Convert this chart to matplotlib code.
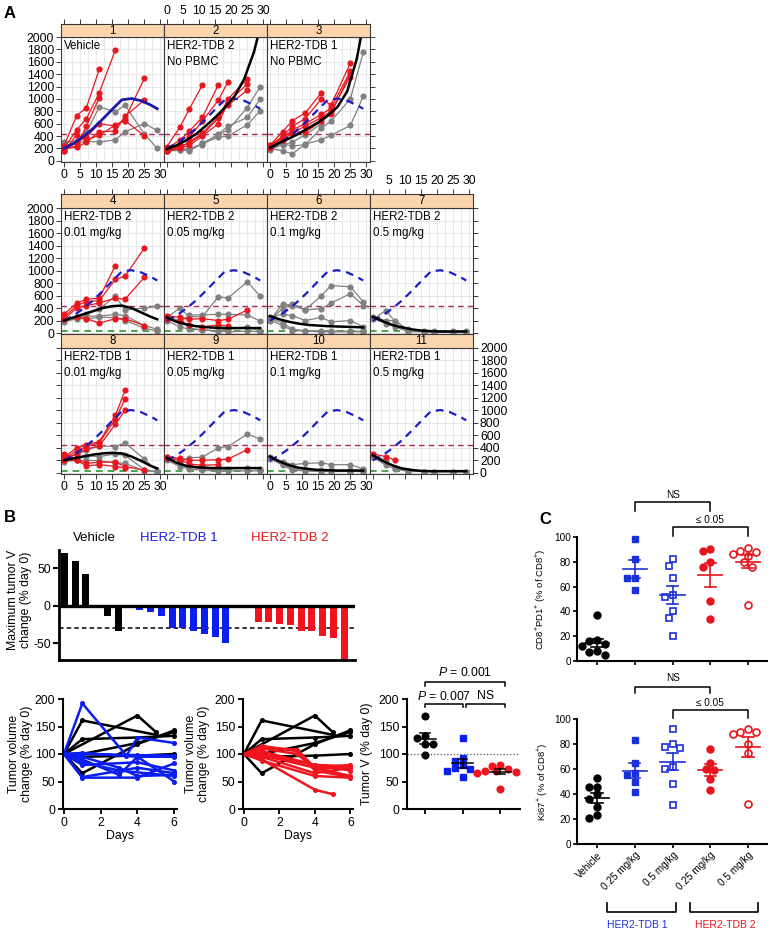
import numpy as np
import matplotlib
matplotlib.use("Agg")
import matplotlib.pyplot as plt

plt.rcParams['font.family'] = ['Liberation Sans', 'DejaVu Sans']
plt.rcParams['mathtext.fontset'] = 'custom'
plt.rcParams['mathtext.rm'] = 'Liberation Sans'
plt.rcParams['mathtext.it'] = 'Liberation Sans:italic'
plt.rcParams['mathtext.bf'] = 'Liberation Sans:bold'
plt.rcParams['axes.unicode_minus'] = False

# ---------------- Panel A data ----------------
DAYS = [0, 4, 7, 11, 16, 19, 25, 29]
FIT_DAYS = [0, 3, 6, 9, 12, 15, 18, 21, 24, 27, 29]
VEHICLE_FIT = [200, 280, 390, 520, 670, 830, 985, 1005, 970, 900, 840]

P1_RED = [[240, 730, 860, 1480], [200, 500, 680, 1100, 1790], [180, 240, 560, 1020],
          [160, 300, 380, 600, 560, 680, 1330], [200, 220, 300, 470, 480, 720, 980],
          [150, 420, 340, 410, 580, 650, 400]]
P1_GRAY = [[300, 320, 460, 870, 790, 900, 430, 200], [250, 280, 320, 300, 340, 470, 600, 490]]
P2_RED = [[230, 540, 840, 1220], [200, 330, 480, 700, 1230], [180, 260, 380, 640, 980, 1280],
          [160, 230, 290, 420, 690, 1000, 1320], [150, 200, 250, 400, 600, 950, 1240],
          [200, 220, 300, 450, 700, 900, 1140]]
P2_GRAY = [[170, 190, 160, 280, 420, 500, 860, 1200], [190, 180, 200, 260, 430, 560, 700, 1000],
           [160, 170, 180, 280, 380, 400, 580, 810]]
P3_RED = [[250, 470, 650, 770, 1100], [230, 400, 560, 680, 1000, 900, 1580],
          [220, 360, 500, 600, 750, 850, 1450], [200, 330, 450, 560, 700, 800, 1360],
          [260, 380, 470, 460, 640, 760, 1420]]
P3_GRAY = [[200, 160, 110, 270, 340, 410, 570, 1040], [220, 270, 240, 260, 530, 640, 1000, 1750],
           [180, 260, 300, 420, 600, 820]]
P4_RED = [[300, 480, 540, 560, 1080], [250, 440, 500, 520, 860, 910, 1360],
          [220, 400, 440, 480, 560, 540, 890], [220, 260, 230, 160, 230, 230, 120]]
P4_GRAY = [[200, 260, 300, 380, 590, 370, 400, 430], [220, 240, 270, 270, 300, 280, 120, 60],
           [180, 230, 230, 250, 250, 200, 80, 30]]
P5_RED = [[280, 250, 220, 230, 200, 220, 370], [220, 190, 130, 100, 130, 110]]
P5_GRAY = [[250, 400, 260, 260, 580, 560, 820, 590], [230, 170, 290, 290, 300, 300, 290, 190],
           [200, 100, 60, 50, 40, 60, 100, 30], [260, 200, 80, 50, 30, 20, 30, 20]]
P6_RED = []
P6_GRAY = [[200, 470, 440, 370, 600, 760, 740, 500], [220, 390, 470, 370, 390, 480, 630, 440],
           [260, 300, 280, 200, 250, 180, 200, 100], [240, 160, 60, 40, 30, 30, 30, 30],
           [210, 120, 40, 30, 20, 20, 20, 20]]
P7_RED = []
P7_GRAY = [[220, 360, 180, 60, 30, 30, 30, 30], [260, 200, 200, 40, 20, 20, 20, 20],
           [240, 150, 100, 20, 20, 20, 20, 20]]
P8_RED = [[250, 400, 450, 500, 920, 1320], [230, 350, 420, 480, 860, 1180],
          [210, 300, 380, 430, 780, 1000], [300, 210, 150, 170, 170, 100, 40],
          [200, 200, 110, 130, 100, 80]]
P8_GRAY = [[250, 300, 360, 430, 420, 480, 220, 30], [220, 250, 270, 260, 300, 280, 50, 20],
           [180, 200, 200, 190, 160, 150, 30, 20]]
P9_RED = [[260, 230, 200, 200, 210, 220, 370], [230, 210, 140, 120, 130]]
P9_GRAY = [[250, 190, 240, 250, 400, 420, 620, 540], [220, 150, 90, 60, 50, 60, 80, 60],
           [200, 100, 60, 40, 30, 30, 30, 30]]
P10_RED = []
P10_GRAY = [[240, 180, 130, 150, 160, 130, 130, 60], [260, 160, 80, 60, 40, 40, 40, 40],
            [220, 140, 60, 30, 30, 30, 30, 30], [230, 120, 40, 30, 20, 20, 20, 20]]
P11_RED = [[300, 260, 200]]
P11_GRAY = [[280, 200, 80, 30, 20, 20, 20, 20], [250, 120, 60, 20, 20, 20, 20, 20]]

P1_FIT = None
P2_FIT = [190, 250, 330, 430, 560, 700, 860, 1040, 1320, 1750, 2150]
P3_FIT = [210, 290, 360, 440, 530, 620, 730, 870, 1120, 1650, 2200]
P4_FIT = [200, 250, 300, 350, 400, 430, 440, 400, 330, 260, 220]
P5_FIT = [250, 180, 140, 110, 95, 85, 80, 80, 80, 80, 80]
P6_FIT = [270, 220, 180, 150, 130, 120, 110, 105, 100, 95, 90]
P7_FIT = [260, 190, 130, 90, 60, 40, 30, 25, 25, 25, 25]
P8_FIT = [200, 230, 260, 290, 310, 320, 310, 260, 190, 110, 70]
P9_FIT = [240, 160, 110, 90, 80, 75, 75, 75, 75, 75, 75]
P10_FIT = [260, 180, 120, 80, 60, 45, 40, 35, 35, 35, 35]
P11_FIT = [280, 190, 120, 70, 45, 30, 25, 25, 25, 25, 25]

PANEL_TEXT = ["Vehicle", "HER2-TDB 2\nNo PBMC", "HER2-TDB 1\nNo PBMC",
              "HER2-TDB 2\n0.01 mg/kg", "HER2-TDB 2\n0.05 mg/kg", "HER2-TDB 2\n0.1 mg/kg",
              "HER2-TDB 2\n0.5 mg/kg", "HER2-TDB 1\n0.01 mg/kg", "HER2-TDB 1\n0.05 mg/kg",
              "HER2-TDB 1\n0.1 mg/kg", "HER2-TDB 1\n0.5 mg/kg"]
X_TICKS_A = [0, 5, 10, 15, 20, 25, 30]
Y_TICKS_A = [0, 200, 400, 600, 800, 1000, 1200, 1400, 1600, 1800, 2000]
PROGRESSION_LEVEL = 440
REGRESSION_LEVEL = 30

# ---------------- Panel B data ----------------
WF_VEHICLE = [70, 60, 42, -3, -13, -33]
WF_TDB1 = [-6, -8, -13, -30, -30, -34, -38, -42, -49]
WF_TDB2 = [-22, -22, -24, -26, -34, -34, -40, -43, -72]
WF_CUTOFF = -30

VEH_LINE_DAYS = [[0, 1, 5], [0, 4, 5], [0, 1, 4, 6], [0, 1, 4, 6], [0, 1, 4, 6], [0, 1, 4, 6]]
VEH_LINE_VALS = [[100, 161, 135], [100, 170, 140], [100, 127, 130, 133], [100, 65, 118, 143],
                 [100, 95, 97, 100], [100, 100, 120, 140]]
TDB1_LINE_DAYS = [[0, 1, 3.4, 4, 6], [0, 1, 4, 6], [0, 1, 4, 6], [0, 1, 3, 4, 6], [0, 1, 4, 6],
                  [0, 1, 4, 6], [0, 1, 3, 4, 6], [0, 1, 4, 6], [0, 1, 3, 6]]
TDB1_LINE_VALS = [[100, 192, 97, 130, 120], [100, 57, 57, 83], [100, 100, 98, 97],
                  [100, 90, 62, 95, 50], [100, 80, 85, 70], [100, 58, 75, 65],
                  [100, 95, 75, 60, 62], [100, 102, 95, 95], [100, 85, 70, 60]]
TDB2_LINE_DAYS = [[0, 1, 3, 4, 6], [0, 1, 4, 5], [0, 1, 3, 4, 6], [0, 1, 4, 6], [0, 1, 4, 6],
                  [0, 1, 4, 6], [0, 1, 4, 6], [0, 1, 4, 6], [0, 1, 3, 4, 6]]
TDB2_LINE_VALS = [[100, 112, 108, 75, 80], [100, 90, 35, 27], [100, 115, 105, 70, 58],
                  [100, 105, 80, 78], [100, 88, 60, 57], [100, 98, 75, 60], [100, 95, 65, 75],
                  [100, 100, 80, 70], [100, 110, 100, 72, 77]]

DOT_VEHICLE = [170, 132, 130, 118, 118, 98]
DOT_TDB1 = [130, 93, 87, 80, 74, 72, 70, 58]
DOT_TDB2 = [80, 79, 73, 70, 69, 68, 66, 37]

# ---------------- Panel C data ----------------
C_LABELS = ["Vehicle", "0.25 mg/kg", "0.5 mg/kg", "0.25 mg/kg", "0.5 mg/kg"]
PD1_VEH = [37, 17, 16, 14, 12, 8, 7, 5]
PD1_TDB1_025 = [98, 82, 67, 67, 57]
PD1_TDB1_05 = [82, 77, 67, 53, 52, 40, 35, 20]
PD1_TDB2_025 = [90, 89, 80, 76, 48, 34]
PD1_TDB2_05 = [91, 89, 88, 86, 85, 80, 76, 45]
KI_VEH = [53, 46, 46, 40, 36, 30, 23, 21]
KI_TDB1_025 = [83, 65, 57, 55, 50, 42]
KI_TDB1_05 = [92, 80, 78, 77, 62, 60, 48, 31]
KI_TDB2_025 = [76, 65, 60, 59, 52, 43]
KI_TDB2_05 = [92, 90, 90, 88, 80, 73, 32]

# ---------------- figure ----------------
W, H = 770, 936
fig = plt.figure(figsize=(W / 100, H / 100), dpi=100)
fig.patch.set_facecolor('white')


def add_ax(x0, y0, x1, y1):
    return fig.add_axes([x0 / W, 1 - y1 / H, (x1 - x0) / W, (y1 - y0) / H])


STRIP = '#FBD5AE'
GRID = '#E4E4E4'
EDGE = '#3A3A3A'
RED_A = '#E8161E'
GRAY_A = '#808080'
BLUE_A = '#1C1CC8'
MAROON = '#A8285A'
GREEN = '#2E962E'

COLS = [61, 164, 267, 370, 473]
ROWS = [(24, 37, 162, -20), (194, 208, 334, -15), (334, 348, 474, -20)]
POS = [(0, 0), (0, 1), (0, 2), (1, 0), (1, 1), (1, 2), (1, 3), (2, 0), (2, 1), (2, 2), (2, 3)]
REDS = [P1_RED, P2_RED, P3_RED, P4_RED, P5_RED, P6_RED, P7_RED, P8_RED, P9_RED, P10_RED, P11_RED]
GRAYS = [P1_GRAY, P2_GRAY, P3_GRAY, P4_GRAY, P5_GRAY, P6_GRAY, P7_GRAY, P8_GRAY, P9_GRAY,
         P10_GRAY, P11_GRAY]
FITS = [P1_FIT, P2_FIT, P3_FIT, P4_FIT, P5_FIT, P6_FIT, P7_FIT, P8_FIT, P9_FIT, P10_FIT, P11_FIT]
LAST_COL = [2, 3, 3]

for k, (r, c) in enumerate(POS):
    stop, ptop, pbot, ylo = ROWS[r]
    ax = add_ax(COLS[c], ptop, COLS[c + 1], pbot)
    ax.set_xlim(-0.9, 31.1)
    ax.set_ylim(ylo, 2000)
    for gx in np.arange(0, 30.1, 2.5):
        ax.axvline(gx, color=GRID, lw=0.6, zorder=0)
    for gy in Y_TICKS_A:
        ax.axhline(gy, color=GRID, lw=0.6, zorder=0)
    ax.axhline(PROGRESSION_LEVEL, color=MAROON, lw=1.0, dashes=(4, 3), zorder=1)
    if r > 0:
        ax.axhline(REGRESSION_LEVEL, color=GREEN, lw=1.2, dashes=(4, 3), zorder=1)
    for line in GRAYS[k]:
        ax.plot(DAYS[:len(line)], line, color=GRAY_A, lw=0.9, marker='o', ms=3.4, zorder=2)
    for line in REDS[k]:
        ax.plot(DAYS[:len(line)], line, color=RED_A, lw=0.9, marker='o', ms=3.4, zorder=3)
    if k == 0:
        ax.plot(FIT_DAYS, VEHICLE_FIT, color='#1A1AA8', lw=2.0, zorder=5)
    else:
        ax.plot(FIT_DAYS, VEHICLE_FIT, color=BLUE_A, lw=1.6, dashes=(3.5, 2.6), zorder=5)
        ax.plot(FIT_DAYS, FITS[k], color='black', lw=1.8, zorder=6)
    ax.text(0.03, 0.975, PANEL_TEXT[k], transform=ax.transAxes, ha='left', va='top',
            fontsize=8.3, linespacing=1.45, zorder=7)
    for s in ax.spines.values():
        s.set_color(EDGE)
        s.set_linewidth(0.8)
    ax.set_xticks(X_TICKS_A)
    ax.set_yticks(Y_TICKS_A)
    ax.tick_params(direction='out', length=3.5, width=0.7, color=EDGE, labelsize=8.8, pad=1.5)
    show_bottom = r in (0, 2)
    ax.tick_params(axis='x', top=False, bottom=show_bottom,
                   labelbottom=show_bottom and c in (0, 2), labeltop=False)
    ax.tick_params(axis='y', left=(c == 0), labelleft=(c == 0 and r < 2),
                   right=(c == LAST_COL[r]), labelright=(c == LAST_COL[r] and r == 2))
    # strip
    sa = add_ax(COLS[c], stop, COLS[c + 1], ptop)
    sa.set_facecolor(STRIP)
    sa.set_xlim(-0.9, 31.1)
    sa.set_ylim(0, 1)
    sa.set_yticks([])
    for s in sa.spines.values():
        s.set_color(EDGE)
        s.set_linewidth(0.8)
    sa.text(0.5, 0.5, str(k + 1), transform=sa.transAxes, ha='center', va='center', fontsize=8.3)
    if r < 2:
        sa.set_xticks(X_TICKS_A)
        sa.xaxis.tick_top()
        sa.tick_params(axis='x', direction='out', length=3.5, width=0.7, color=EDGE,
                       labelsize=8.8, pad=1.5, bottom=False, labelbottom=False)
        if (r == 0 and c == 1):
            sa.set_xticklabels([str(t) for t in X_TICKS_A])
        elif (r == 1 and c == 3):
            sa.set_xticklabels([''] + [str(t) for t in X_TICKS_A[1:]])
        else:
            sa.tick_params(axis='x', labeltop=False)
    else:
        sa.set_xticks([])

# ---------------- Panel B: waterfall ----------------
BLUE_B = '#0A1EF0'
RED_B = '#F0141E'
axw = add_ax(59, 550, 355, 660)
pos_veh = np.arange(len(WF_VEHICLE))
pos_t1 = np.arange(len(WF_TDB1)) + len(WF_VEHICLE) + 1
pos_t2 = np.arange(len(WF_TDB2)) + pos_t1[-1] + 3
axw.bar(pos_veh, WF_VEHICLE, width=0.65, color='black', zorder=2)
axw.bar(pos_t1, WF_TDB1, width=0.65, color=BLUE_B, zorder=2)
axw.bar(pos_t2, WF_TDB2, width=0.65, color=RED_B, zorder=2)
axw.set_xlim(-0.5, pos_t2[-1] + 1)
axw.set_ylim(-72, 74)
axw.axhline(0, color='black', lw=2.4, zorder=3)
axw.axhline(WF_CUTOFF, color='black', lw=1.1, dashes=(3, 2), zorder=1)
for s in ('top', 'right'):
    axw.spines[s].set_visible(False)
axw.spines['left'].set_linewidth(2)
axw.spines['bottom'].set_linewidth(2)
axw.set_xticks([])
axw.set_yticks([50, 0, -50])
axw.tick_params(axis='y', length=4, width=1.5, labelsize=8.8, pad=2)
axw.set_ylabel("Maximum tumor V\nchange (% day 0)", fontsize=8.8, linespacing=1.1)
axw.yaxis.set_label_coords(-0.09, 0.55)


# ---------------- Panel B: line plots ----------------
def line_axes(x0, x1, groups):
    a = add_ax(x0, 699, x1, 809)
    for days_list, vals_list, col in groups:
        for d, v in zip(days_list, vals_list):
            a.plot(d, v, color=col, lw=1.8, marker='o', ms=2.6, clip_on=False)
    a.set_xlim(-0.05, 6.15)
    a.set_ylim(0, 200)
    a.set_xticks([0, 2, 4, 6])
    a.set_yticks([0, 50, 100, 150, 200])
    for s in ('top', 'right'):
        a.spines[s].set_visible(False)
    for s in ('left', 'bottom'):
        a.spines[s].set_linewidth(1.5)
    a.tick_params(length=3.5, width=1.3, labelsize=8.8, pad=2)
    a.set_xlabel("Days", fontsize=8.8, labelpad=1)
    a.set_ylabel("Tumor volume\nchange (% day 0)", fontsize=8.8, linespacing=1.1)
    return a


la1 = line_axes(63, 177, [(VEH_LINE_DAYS, VEH_LINE_VALS, 'black'),
                          (TDB1_LINE_DAYS, TDB1_LINE_VALS, BLUE_B)])
la1.yaxis.set_label_coords(-0.265, 0.5)
la2 = line_axes(243, 353, [(VEH_LINE_DAYS, VEH_LINE_VALS, 'black'),
                           (TDB2_LINE_DAYS, TDB2_LINE_VALS, RED_B)])
la2.yaxis.set_label_coords(-0.30, 0.5)


# ---------------- helpers for dot plots ----------------
def swarm_offsets(vals, y_per_unit, x_per_unit, diam):
    vals = np.asarray(vals, float)
    order = np.argsort(-vals)
    placed = []
    offs = np.zeros(len(vals))
    step = diam * 0.55
    cands = [0.0]
    for j in range(1, 14):
        cands += [-j * step, j * step]
    for i in order:
        y = vals[i] * y_per_unit
        for cnd in cands:
            if all((cnd - px) ** 2 + (y - py) ** 2 >= (diam * 0.95) ** 2 for px, py in placed):
                offs[i] = cnd / x_per_unit
                placed.append((cnd, y))
                break
    return offs


def mean_sem(ax, x, vals, color, half=0.3, cap=0.14, lw=1.2):
    m = np.mean(vals)
    s = np.std(vals, ddof=1) / np.sqrt(len(vals))
    ax.plot([x - half, x + half], [m, m], color=color, lw=lw, zorder=5)
    ax.plot([x, x], [m - s, m + s], color=color, lw=lw, zorder=5)
    for yy in (m - s, m + s):
        ax.plot([x - cap, x + cap], [yy, yy], color=color, lw=lw, zorder=5)


def bracket(ax, x0, x1, y, ylo, text, ty, fs):
    ax.plot([x0, x0, x1, x1], [ylo, y, y, ylo], color='black', lw=1.1, clip_on=False)
    ax.text((x0 + x1) / 2, ty, text, ha='center', va='center', fontsize=fs, clip_on=False)


# ---------------- Panel B: dot plot ----------------
axd = add_ax(407, 699, 520, 809)
axd.set_xlim(-0.48, 2.53)
axd.set_ylim(0, 200)
axd.axhline(100, color='#555555', lw=0.9, ls=':', zorder=1)
for i, (vals, col, mk) in enumerate([(DOT_VEHICLE, 'black', 'o'), (DOT_TDB1, BLUE_B, 's'),
                                     (DOT_TDB2, RED_B, 'o')]):
    offs = swarm_offsets(vals, 0.55, 37.5, 7.0)
    axd.plot(i + offs, vals, ls='none', marker=mk, ms=4.8 if mk == 'o' else 4.4,
             color=col, zorder=3)
    mean_sem(axd, i, vals, 'black', half=0.28, cap=0.13, lw=1.1)
for s in ('top', 'right'):
    axd.spines[s].set_visible(False)
for s in ('left', 'bottom'):
    axd.spines[s].set_linewidth(1.5)
axd.set_xticks([0, 1, 2])
axd.set_xticklabels([])
axd.set_yticks([0, 50, 100, 150, 200])
axd.tick_params(length=3.5, width=1.3, labelsize=8.8, pad=2)
axd.set_ylabel("Tumor V (% day 0)", fontsize=8.8)
axd.yaxis.set_label_coords(-0.30, 0.5)
bracket(axd, 0.0, 1.0, 191, 185, r"$P$ = 0.007", 205, 8.8)
bracket(axd, 1.1, 2.13, 191, 185, "NS", 205, 8.8)
bracket(axd, 0.0, 2.13, 231, 224, r"$P$ = 0.001", 248, 8.8)

# ---------------- Panel C ----------------
BLUE_C = '#1C30D8'
RED_C = '#E8141C'
C_STYLE = [('black', 'o', True), (BLUE_C, 's', True), (BLUE_C, 's', False),
           (RED_C, 'o', True), (RED_C, 'o', False)]


def c_axes(y0, y1, groups, ylabel, lab_x, b1, b2, show_labels):
    a = add_ax(577, y0, 767, y1)
    a.set_xlim(-0.53, 4.5)
    a.set_ylim(0, 100)
    ypu = (y1 - y0) / 100.0
    for i, (vals, (col, mk, filled)) in enumerate(zip(groups, C_STYLE)):
        offs = swarm_offsets(vals, ypu, 37.8, 7.0)
        ms = 5.0 if mk == 'o' else 4.6
        if filled:
            a.plot(i + offs, vals, ls='none', marker=mk, ms=ms, color=col, zorder=3,
                   clip_on=False)
        else:
            a.plot(i + offs, vals, ls='none', marker=mk, ms=ms, mfc='white', mec=col,
                   mew=1.2, zorder=3, clip_on=False)
        mean_sem(a, i, vals, col, half=0.32, cap=0.15, lw=1.2)
    for s in ('top', 'right'):
        a.spines[s].set_visible(False)
    for s in ('left', 'bottom'):
        a.spines[s].set_linewidth(1.5)
    a.set_yticks([0, 20, 40, 60, 80, 100])
    a.set_xticks(range(len(groups)))
    a.tick_params(length=3, width=1.2, labelsize=7.2, pad=1.5)
    if show_labels:
        a.set_xticklabels(C_LABELS, rotation=45, ha='right', rotation_mode='anchor', fontsize=7.2)
    else:
        a.set_xticklabels([])
    a.set_ylabel(ylabel, fontsize=6.8)
    a.yaxis.set_label_coords(lab_x, 0.5)
    bracket(a, 1, 3, b1[0], b1[1], "NS", b1[2], 7.2)
    bracket(a, 2, 4, b2[0], b2[1], "\u2264 0.05", b2[2], 7.2)
    return a


c_axes(537, 661, [PD1_VEH, PD1_TDB1_025, PD1_TDB1_05, PD1_TDB2_025, PD1_TDB2_05],
       r"CD8$^{+}$PD1$^{+}$ (% of CD8$^{+}$)", -0.155,
       (128, 121, 134), (108, 101, 114), False)
c_axes(719, 844, [KI_VEH, KI_TDB1_025, KI_TDB1_05, KI_TDB2_025, KI_TDB2_05],
       r"Ki67$^{+}$ (% of CD8$^{+}$)", -0.14,
       (126, 121, 133), (107, 101, 113), True)

# ---------------- overlay: letters, legends, group brackets ----------------
ov = fig.add_axes([0, 0, 1, 1])
ov.set_xlim(0, W)
ov.set_ylim(H, 0)
ov.axis('off')
ov.patch.set_alpha(0)
ov.text(10, 13, "A", fontsize=12, fontweight='bold', ha='center', va='center')
ov.text(10, 517, "B", fontsize=12, fontweight='bold', ha='center', va='center')
ov.text(545, 520, "C", fontsize=12, fontweight='bold', ha='center', va='center')
ov.text(94, 538, "Vehicle", fontsize=9.5, ha='center', va='center', color='black')
ov.text(179, 538, "HER2-TDB 1", fontsize=9.5, ha='center', va='center', color='#1A1AE6')
ov.text(290, 538, "HER2-TDB 2", fontsize=9.5, ha='center', va='center', color='#E61A1A')
ov.plot([607, 607, 676, 676], [903, 912, 912, 903], color='black', lw=1.2)
ov.plot([690, 690, 758, 758], [903, 912, 912, 903], color='black', lw=1.2)
ov.text(637, 925, "HER2-TDB 1", fontsize=7.5, ha='center', va='center', color=BLUE_C)
ov.text(725, 925, "HER2-TDB 2", fontsize=7.5, ha='center', va='center', color=RED_C)

fig.savefig("out.png", dpi=100, facecolor='white')
